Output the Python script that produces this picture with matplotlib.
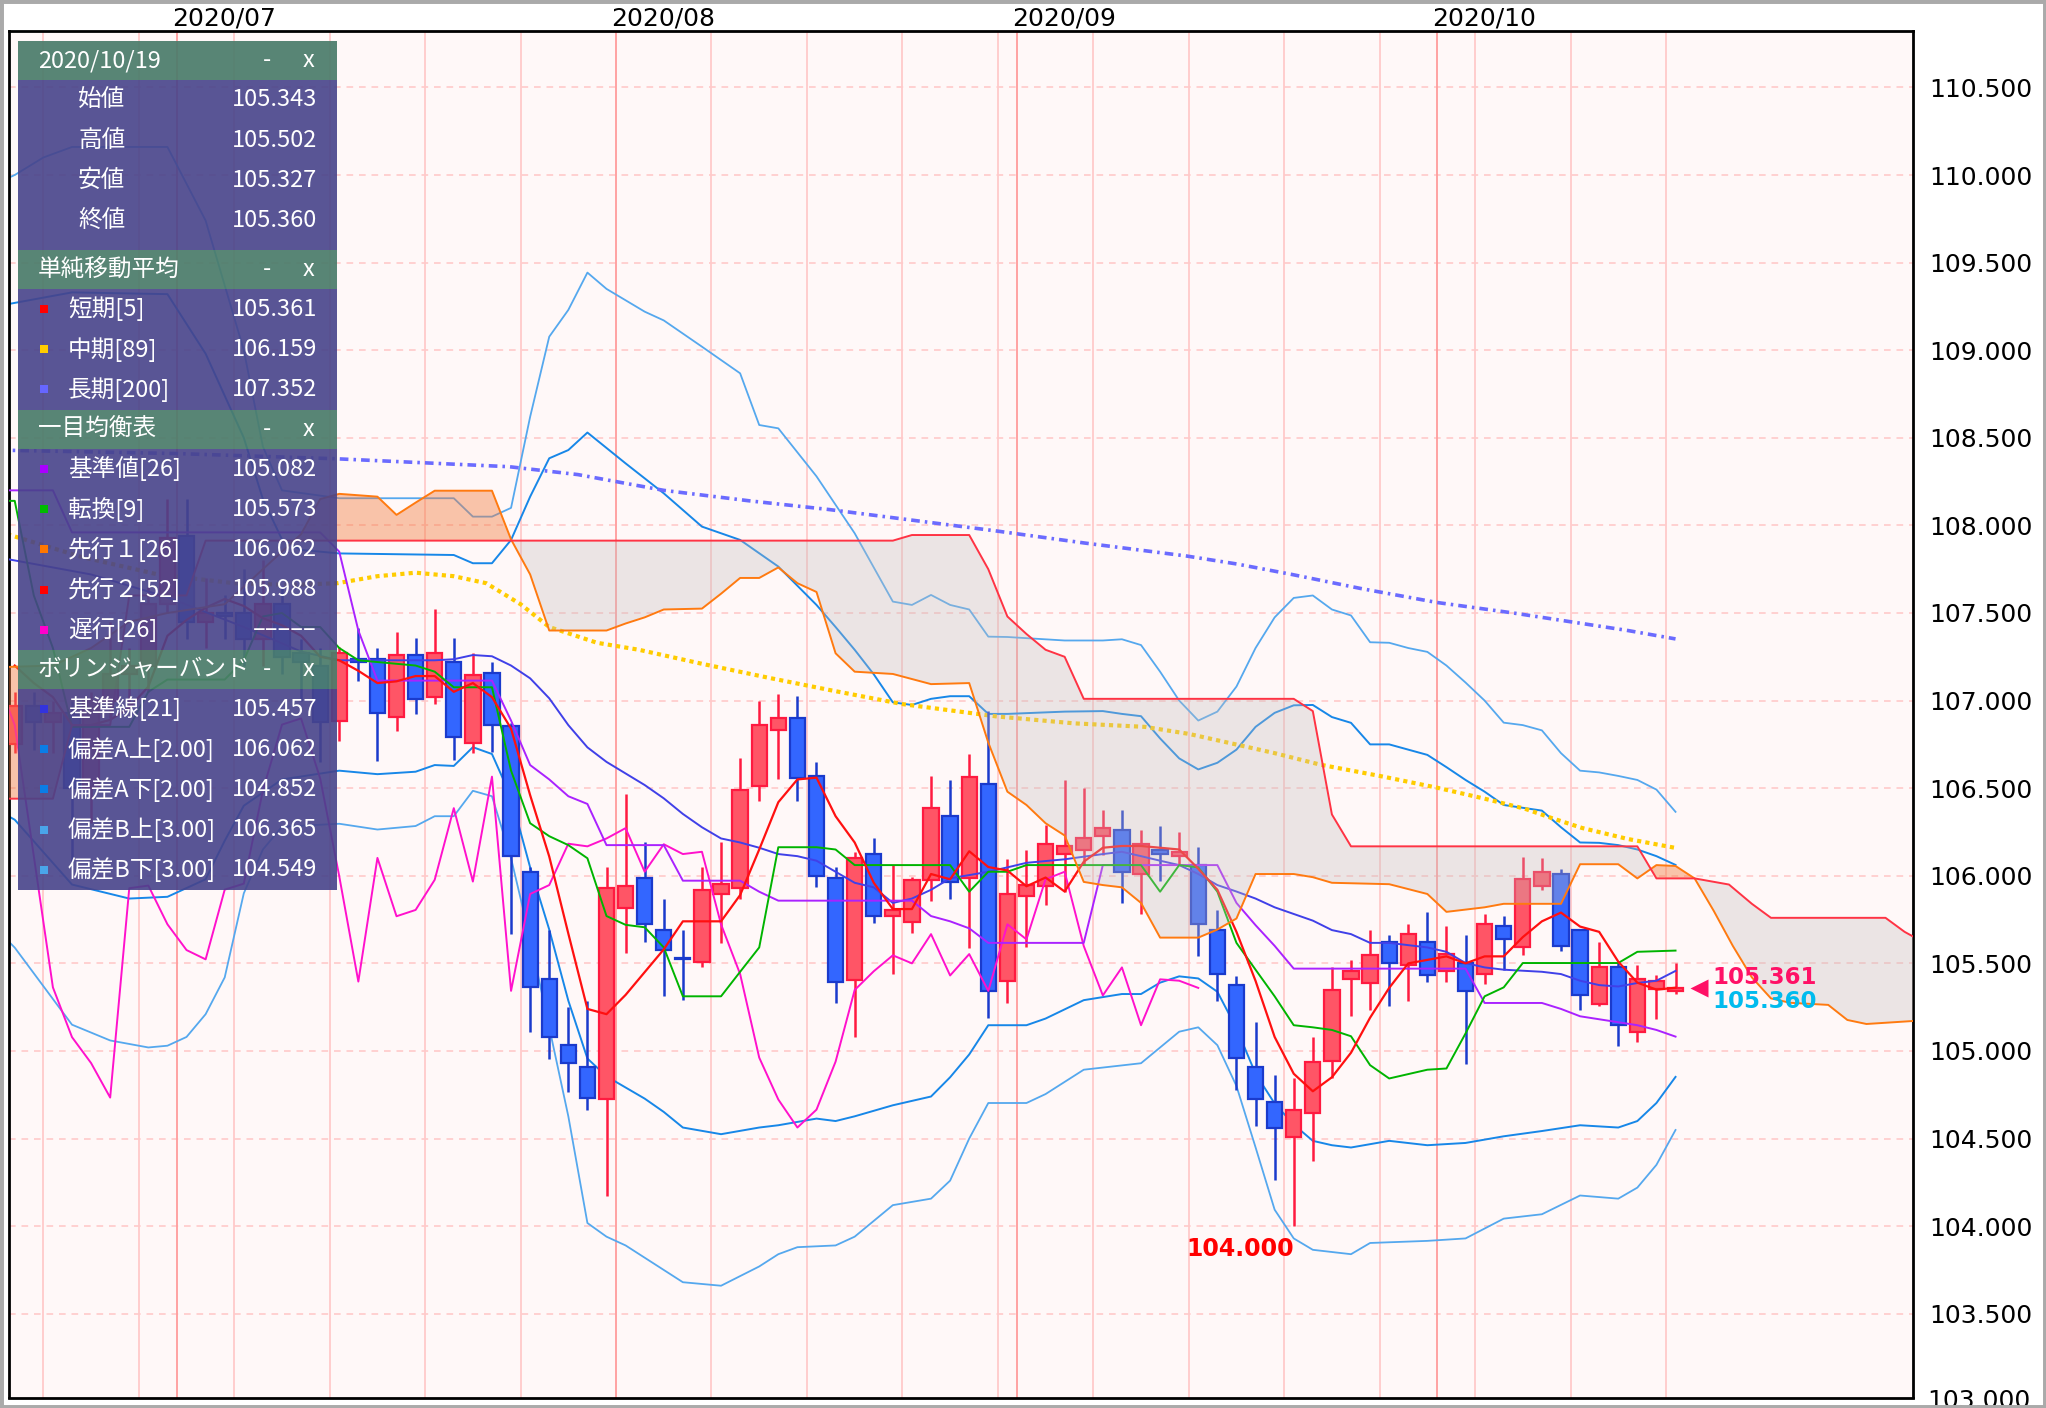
import numpy as np
import matplotlib.pyplot as plt
from matplotlib.patches import Rectangle
from matplotlib.transforms import blended_transform_factory

plt.rcParams['font.family'] = ['Noto Sans CJK JP', 'DejaVu Sans']

# ---------------- data (trading-day index, 0 = 2020/07/01) ----------------
first_k = -9
opens = [106.75, 106.97, 106.88, 106.93, 106.50, 107.00, 107.15, 107.20, 107.55,
         107.94, 107.45, 107.50, 107.50, 107.35, 107.55, 107.27, 107.20,
         106.886, 107.24, 107.236, 106.906, 107.261, 107.02, 107.221, 106.759, 107.16,
         106.855, 106.023, 105.409, 105.033, 104.911, 104.723, 105.815, 105.99, 105.693,
         105.533, 105.51, 105.896, 105.929, 106.51, 106.83, 106.898, 106.569, 105.99,
         105.404, 106.124, 105.769, 105.739, 105.977, 106.34, 105.985, 106.523, 105.398,
         105.883, 105.942, 106.124, 106.145, 106.226, 106.259, 106.01, 106.145, 106.112,
         106.061, 105.693, 105.376, 104.906, 104.711, 104.508, 104.647, 104.944, 105.41,
         105.389, 105.622, 105.49, 105.622, 105.459, 105.502, 105.441, 105.713, 105.591,
         105.942, 106.01, 105.693, 105.269, 105.477, 105.109, 105.355, 105.343]
highs = [107.05, 107.05, 107.00, 107.00, 107.05, 107.45, 107.30, 107.65, 108.15,
         108.15, 107.70, 107.60, 107.75, 107.80, 107.65, 107.35, 107.30,
         107.305, 107.414, 107.30, 107.393, 107.355, 107.525, 107.355, 107.274, 107.221,
         106.873, 106.048, 105.688, 105.249, 105.287, 106.048, 106.467, 106.195, 105.865,
         105.693, 106.048, 106.195, 106.67, 107.0, 107.038, 107.025, 106.65, 106.048,
         106.135, 106.218, 106.06, 105.992, 106.568, 106.548, 106.695, 106.942, 106.094,
         106.147, 106.289, 106.548, 106.5, 106.378, 106.378, 106.264, 106.284, 106.251,
         106.162, 105.807, 105.427, 105.165, 104.863, 104.843, 105.079, 105.477, 105.521,
         105.693, 105.66, 105.726, 105.795, 105.713, 105.66, 105.782, 105.772, 106.107,
         106.104, 106.036, 105.693, 105.624, 105.502, 105.49, 105.434, 105.502]
lows = [106.70, 106.72, 106.70, 106.08, 106.30, 106.90, 106.95, 107.05, 107.50,
        107.35, 107.30, 107.35, 107.20, 107.20, 107.15, 107.00, 106.65,
        106.772, 107.114, 106.657, 106.827, 106.924, 106.982, 106.662, 106.70, 106.708,
        105.668, 105.109, 104.957, 104.767, 104.665, 104.175, 105.561, 105.622, 105.312,
        105.292, 105.477, 105.617, 105.87, 106.429, 106.551, 106.429, 105.934, 105.274,
        105.081, 105.731, 105.439, 105.675, 105.858, 105.87, 105.586, 105.19, 105.274,
        105.591, 105.833, 105.909, 106.061, 106.119, 105.845, 105.782, 105.972, 106.061,
        105.54, 105.287, 104.779, 104.574, 104.266, 104.000, 104.373, 104.843, 105.198,
        105.236, 105.254, 105.284, 105.393, 105.393, 104.926, 105.383, 105.464, 105.546,
        105.916, 105.571, 105.236, 105.254, 105.028, 105.051, 105.185, 105.327]
closes = [106.97, 106.88, 106.93, 106.50, 107.00, 107.15, 107.20, 107.55, 107.93,
          107.45, 107.50, 107.48, 107.35, 107.55, 107.25, 107.22, 106.88,
          107.272, 107.22, 106.931, 107.261, 107.008, 107.272, 106.794, 107.147, 106.86,
          106.112, 105.363, 105.079, 104.931, 104.734, 105.929, 105.944, 105.723, 105.576,
          105.523, 105.921, 105.955, 106.487, 106.863, 106.898, 106.556, 105.997, 105.396,
          106.102, 105.769, 105.805, 105.977, 106.386, 105.967, 106.566, 105.343, 105.896,
          105.947, 106.183, 106.168, 106.213, 106.272, 106.023, 106.18, 106.124, 106.137,
          105.723, 105.439, 104.962, 104.723, 104.563, 104.665, 104.939, 105.348, 105.455,
          105.546, 105.5, 105.667, 105.431, 105.553, 105.343, 105.723, 105.637, 105.98,
          106.023, 105.599, 105.317, 105.477, 105.147, 105.409, 105.401, 105.360]

sma5 = [107.20, 107.10, 107.02, 106.86, 106.86, 106.89, 106.96, 107.08, 107.37, 107.46,
        107.53, 107.58, 107.54, 107.47, 107.43, 107.37, 107.25, 107.23, 107.17, 107.10,
        107.11, 107.14, 107.14, 107.05, 107.10, 107.02, 106.84, 106.46, 106.11, 105.67,
        105.24, 105.21, 105.32, 105.45, 105.58, 105.74, 105.74, 105.74, 105.89, 106.15,
        106.42, 106.55, 106.56, 106.34, 106.19, 105.96, 105.81, 105.81, 106.01, 105.98,
        106.14, 106.05, 106.03, 105.94, 105.99, 105.91, 106.08, 106.16, 106.17, 106.17,
        106.16, 106.15, 106.04, 105.92, 105.68, 105.40, 105.08, 104.87, 104.77, 104.85,
        104.99, 105.19, 105.36, 105.50, 105.52, 105.54, 105.50, 105.54, 105.54, 105.65,
        105.74, 105.79, 105.71, 105.68, 105.51, 105.39, 105.35, 105.361]

# line vertices: (day position, price)
sma89 = [(-9.5, 107.97), (-5, 107.82), (-1, 107.72), (3, 107.67), (6, 107.66), (8.4, 107.67),
         (10.5, 107.71), (12.5, 107.73), (14.5, 107.71), (16.2, 107.67), (18, 107.55),
         (19.5, 107.42), (22, 107.33), (24.2, 107.29), (27.5, 107.21), (31, 107.13),
         (34.2, 107.06), (38, 106.98), (42.9, 106.91), (47, 106.87), (50.7, 106.85),
         (53, 106.81), (55.3, 106.754), (57.5, 106.70), (59.9, 106.634), (63, 106.57),
         (66, 106.503), (68.5, 106.44), (70.6, 106.383), (72, 106.33), (73.6, 106.273),
         (76, 106.21), (78.5, 106.159)]
sma200 = [(-9.5, 108.43), (0, 108.41), (8.4, 108.38), (17.4, 108.335), (21, 108.29),
          (25.5, 108.2), (30, 108.14), (34.2, 108.09), (38.5, 108.03), (42.8, 107.97),
          (47.5, 107.9), (52.9, 107.825), (55.5, 107.78), (58.4, 107.72), (62, 107.64),
          (66, 107.56), (70, 107.5), (73.6, 107.44), (76, 107.40), (78.5, 107.352)]
kijun = [(-9.5, 108.2), (-6.5, 108.2), (-5.5, 107.96), (7.5, 107.96), (8.5, 107.85),
         (9.5, 107.4), (10.5, 107.114), (16.5, 107.114), (17.5, 106.886), (18.5, 106.632),
         (19.5, 106.55), (20.5, 106.454), (21.5, 106.41), (22.5, 106.175), (25.5, 106.175),
         (26.5, 105.972), (29.5, 105.972), (30.5, 105.909), (31.5, 105.858), (38.5, 105.858),
         (39.5, 105.77), (40.5, 105.74), (41.5, 105.7), (42.5, 105.617), (47.5, 105.617),
         (48.5, 106.061), (54.5, 106.061), (55.5, 105.845), (56.5, 105.718), (57.5, 105.6),
         (58.5, 105.47), (67.5, 105.47), (68.5, 105.274), (71.5, 105.274), (72.5, 105.24),
         (73.5, 105.198), (76.5, 105.147), (77.5, 105.12), (78.5, 105.082)]
tenkan = [(-9.5, 108.14), (-8.5, 108.14), (-7.5, 107.6), (-6.5, 107.3), (-5.5, 106.85),
          (-2.5, 106.85), (-1.5, 107.05), (-0.5, 107.12), (2.5, 107.12), (3.5, 107.23),
          (4.5, 107.48), (5.5, 107.5), (6.5, 107.42), (7.5, 107.42), (8.5, 107.3),
          (9.5, 107.23), (12.5, 107.2), (13.5, 107.165), (14.5, 107.076), (16.5, 107.076),
          (17.5, 106.6), (18.5, 106.3), (19.5, 106.226), (20.5, 106.175), (21.5, 106.1),
          (22.5, 105.77), (23.5, 105.72), (24.5, 105.706), (25.5, 105.591), (26.5, 105.312),
          (28.5, 105.312), (29.5, 105.452), (30.5, 105.591), (31.5, 106.163), (33.5, 106.163),
          (34.5, 106.15), (35.5, 106.061), (40.5, 106.061), (41.5, 105.909), (42.5, 106.023),
          (43.5, 106.023), (44.5, 106.061), (50.5, 106.061), (51.5, 105.909), (52.5, 106.061),
          (53.5, 106.048), (54.5, 105.909), (55.5, 105.617), (56.5, 105.464), (57.5, 105.312),
          (58.5, 105.147), (59.5, 105.135), (60.5, 105.12), (61.5, 105.084), (62.5, 104.919),
          (63.5, 104.843), (65.5, 104.893), (66.5, 104.9), (67.5, 105.1), (68.5, 105.312),
          (69.5, 105.363), (70.5, 105.502), (75.5, 105.502), (76.5, 105.566), (78.5, 105.573)]
senkou_a = [(-9.5, 107.19), (-6.5, 107.2), (-4.5, 107.3), (-2.5, 107.45), (-0.5, 107.5),
            (2.5, 107.55), (4.5, 107.75), (6.5, 107.95), (7.5, 108.15), (8.5, 108.18),
            (10.5, 108.164), (11.5, 108.06), (12.5, 108.13), (13.5, 108.198), (16.5, 108.198),
            (17.5, 107.92), (18.5, 107.72), (19.5, 107.40), (22.5, 107.40), (23.5, 107.44),
            (24.5, 107.475), (25.5, 107.52), (27.5, 107.525), (28.5, 107.61), (29.5, 107.70),
            (30.5, 107.70), (31.5, 107.76), (32.5, 107.67), (33.5, 107.62), (34.5, 107.27),
            (35.5, 107.165), (37.5, 107.152), (39.5, 107.094), (41.5, 107.1), (42.5, 106.76),
            (43.5, 106.48), (44.5, 106.404), (45.5, 106.30), (46.5, 106.23), (47.5, 105.965),
            (48.5, 105.947), (49.5, 105.934), (50.5, 105.845), (51.5, 105.647), (53.5, 105.647),
            (54.5, 105.693), (55.5, 105.756), (56.5, 106.01), (58.5, 106.01), (59.5, 105.992),
            (60.5, 105.96), (63.5, 105.952), (65.5, 105.896), (66.5, 105.794), (68.5, 105.82),
            (69.5, 105.84), (72.5, 105.84), (73.5, 106.066), (75.5, 106.066), (76.5, 105.985),
            (77.5, 106.061), (78.5, 106.056), (79.5, 105.985), (80.5, 105.80), (81.5, 105.60),
            (82.5, 105.42), (83.5, 105.30), (84.5, 105.275), (86.5, 105.263), (87.5, 105.177),
            (88.5, 105.154), (91.5, 105.175)]
senkou_b = [(-9.5, 106.44), (-6.5, 106.44), (-5.5, 106.86), (-3.5, 106.86), (-2.5, 107.6),
            (0.5, 107.6), (1.5, 107.913), (37.5, 107.913), (38.5, 107.945), (41.5, 107.945),
            (42.5, 107.75), (43.5, 107.48), (44.5, 107.38), (45.5, 107.29), (46.5, 107.25),
            (47.5, 107.01), (58.5, 107.01), (59.5, 106.94), (60.5, 106.35), (61.5, 106.168),
            (76.5, 106.168), (77.5, 105.985), (79.5, 105.985), (81.3, 105.95), (82.5, 105.84),
            (83.5, 105.76), (89.5, 105.76), (90.5, 105.68), (91.5, 105.62)]
bb_mid = [(-9.5, 107.82), (-8.5, 107.8), (-4.5, 107.72), (-0.5, 107.59), (3.5, 107.42),
          (6.5, 107.28), (8.5, 107.23), (13.5, 107.23), (14.5, 107.236), (15.5, 107.26),
          (16.5, 107.253), (17.5, 107.2), (18.5, 107.127), (19.5, 107.013), (20.5, 106.86),
          (21.5, 106.733), (22.5, 106.65), (24.5, 106.518), (25.5, 106.442), (26.5, 106.353),
          (27.5, 106.277), (28.5, 106.213), (29.5, 106.19), (30.5, 106.16), (31.5, 106.124),
          (32.5, 106.112), (33.5, 106.086), (34.5, 106.023), (35.5, 105.96), (36.5, 105.934),
          (37.5, 105.845), (38.5, 105.87), (39.5, 105.92), (40.5, 105.985), (42.5, 106.023),
          (43.5, 106.048), (44.5, 106.074), (46.5, 106.094), (48.5, 106.124), (49.5, 106.137),
          (50.5, 106.112), (51.5, 106.086), (52.5, 106.061), (53.5, 106.01), (54.5, 105.947),
          (55.5, 105.91), (56.5, 105.87), (57.5, 105.82), (58.5, 105.782), (59.5, 105.744),
          (60.5, 105.69), (61.5, 105.667), (62.5, 105.617), (63.5, 105.617), (64.5, 105.604),
          (65.5, 105.591), (66.5, 105.566), (67.5, 105.502), (68.5, 105.477), (69.5, 105.464),
          (71.5, 105.452), (72.5, 105.439), (73.5, 105.401), (74.5, 105.376), (75.5, 105.368),
          (76.5, 105.388), (77.5, 105.401), (78.5, 105.457)]
bb_up2 = [(-9.5, 109.25), (-8.5, 109.27), (-5.5, 109.33), (-0.5, 109.32), (1.5, 108.98),
          (3.5, 108.5), (4.5, 108.15), (5.5, 107.92), (6.5, 107.86), (8.5, 107.84),
          (14.5, 107.831), (15.5, 107.784), (16.5, 107.784), (17.5, 107.917), (18.5, 108.164),
          (19.5, 108.383), (20.5, 108.43), (21.5, 108.53), (23.5, 108.354), (25.5, 108.183),
          (27.5, 107.993), (29.5, 107.917), (31.5, 107.765), (33.5, 107.546), (34.5, 107.42),
          (35.5, 107.29), (36.5, 107.15), (37.5, 106.99), (38.5, 106.975), (39.5, 107.01),
          (40.5, 107.025), (41.5, 107.025), (42.5, 106.924), (43.5, 106.924), (46.5, 106.937),
          (48.5, 106.94), (49.5, 106.924), (50.5, 106.911), (51.5, 106.784), (52.5, 106.67),
          (53.5, 106.607), (54.5, 106.645), (55.5, 106.72), (56.5, 106.85), (57.5, 106.93),
          (58.5, 106.973), (59.5, 106.975), (60.5, 106.906), (61.5, 106.873), (62.5, 106.75),
          (63.5, 106.75), (65.5, 106.69), (66.5, 106.62), (67.5, 106.547), (68.5, 106.48),
          (69.5, 106.404), (71.5, 106.372), (72.5, 106.277), (73.5, 106.19), (74.5, 106.188),
          (75.5, 106.175), (76.5, 106.15), (77.5, 106.112), (78.5, 106.062)]
bb_up3 = [(-9.5, 109.95), (-8.5, 110.0), (-7, 110.1), (-5.5, 110.16), (-0.5, 110.16),
          (1.5, 109.74), (3.5, 109.0), (4.5, 108.45), (5.5, 108.2), (8.5, 108.155),
          (14.5, 108.155), (15.5, 108.05), (16.5, 108.05), (17.5, 108.1), (18.5, 108.62),
          (19.5, 109.077), (20.5, 109.23), (21.5, 109.443), (22.5, 109.35), (24.5, 109.22),
          (25.5, 109.17), (27.5, 109.02), (29.5, 108.868), (30.5, 108.573), (31.5, 108.554),
          (33.5, 108.28), (35.5, 107.955), (37.5, 107.565), (38.5, 107.546), (39.5, 107.603),
          (40.5, 107.546), (41.5, 107.52), (42.5, 107.365), (43.5, 107.363), (46.5, 107.343),
          (48.5, 107.343), (49.5, 107.35), (50.5, 107.317), (51.5, 107.165), (52.5, 107.0),
          (53.5, 106.886), (54.5, 106.937), (55.5, 107.08), (56.5, 107.3), (57.5, 107.475),
          (58.5, 107.586), (59.5, 107.6), (60.5, 107.52), (61.5, 107.486), (62.5, 107.333),
          (63.5, 107.33), (64.5, 107.3), (65.5, 107.278), (66.5, 107.2), (67.5, 107.103),
          (68.5, 107.0), (69.5, 106.874), (70.5, 106.86), (71.5, 106.83), (72.5, 106.7),
          (73.5, 106.6), (74.5, 106.59), (75.5, 106.57), (76.5, 106.547), (77.5, 106.492),
          (78.5, 106.365)]
bb_lo2 = [(-9.5, 106.38), (-8.5, 106.32), (-5.5, 105.95), (-2.5, 105.87), (-0.5, 105.88),
          (1.5, 105.98), (2.5, 106.2), (3.5, 106.4), (5.5, 106.55), (8.5, 106.6),
          (10.5, 106.58), (12.5, 106.594), (13.5, 106.632), (14.5, 106.627), (15.5, 106.734),
          (16.5, 106.695), (17.5, 106.45), (18.5, 106.048), (19.5, 105.693), (20.5, 105.287),
          (21.5, 104.957), (22.5, 104.855), (24.5, 104.728), (25.5, 104.652), (26.5, 104.563),
          (28.5, 104.525), (30.5, 104.563), (31.5, 104.576), (33.5, 104.614), (34.5, 104.6),
          (35.5, 104.627), (37.5, 104.69), (39.5, 104.74), (40.5, 104.85), (41.5, 104.98),
          (42.5, 105.147), (44.5, 105.147), (45.5, 105.185), (47.5, 105.29), (49.5, 105.325),
          (50.5, 105.325), (51.5, 105.39), (52.5, 105.426), (53.5, 105.414), (54.5, 105.338),
          (55.5, 105.13), (56.5, 104.87), (57.5, 104.7), (58.5, 104.58), (59.5, 104.487),
          (60.5, 104.462), (61.5, 104.449), (63.5, 104.487), (65.5, 104.462), (67.5, 104.475),
          (69.5, 104.513), (71.5, 104.543), (73.5, 104.576), (75.5, 104.563), (76.5, 104.6),
          (77.5, 104.703), (78.5, 104.852)]
bb_lo3 = [(-9.5, 105.7), (-8.5, 105.59), (-5.5, 105.15), (-3.5, 105.06), (-1.5, 105.02),
          (-0.5, 105.03), (0.5, 105.08), (1.5, 105.21), (2.5, 105.42), (3.5, 105.9),
          (4.5, 106.15), (5.5, 106.28), (8.5, 106.297), (10.5, 106.264), (12.5, 106.284),
          (13.5, 106.34), (14.5, 106.34), (15.5, 106.485), (16.5, 106.454), (17.5, 106.1),
          (18.5, 105.64), (19.5, 105.135), (20.5, 104.627), (21.5, 104.018), (22.5, 103.94),
          (23.5, 103.89), (25.5, 103.75), (26.5, 103.68), (28.5, 103.66), (30.5, 103.77),
          (31.5, 103.84), (32.5, 103.88), (34.5, 103.89), (35.5, 103.94), (37.5, 104.12),
          (39.5, 104.157), (40.5, 104.26), (41.5, 104.5), (42.5, 104.703), (44.5, 104.703),
          (45.5, 104.754), (47.5, 104.893), (50.5, 104.93), (51.5, 105.02), (52.5, 105.11),
          (53.5, 105.135), (54.5, 105.033), (55.5, 104.8), (56.5, 104.45), (57.5, 104.094),
          (58.5, 103.93), (59.5, 103.865), (61.5, 103.84), (62.5, 103.904), (65.5, 103.916),
          (67.5, 103.93), (69.5, 104.043), (71.5, 104.068), (73.5, 104.175), (75.5, 104.157),
          (76.5, 104.22), (77.5, 104.35), (78.5, 104.549)]

mondays = [-7, -2, 3, 8, 13, 18, 28, 33, 38, 43, 48, 53, 58, 63, 68, 73, 78]
month_starts = [0, 23, 44, 66]
month_labels = ['2020/07', '2020/08', '2020/09', '2020/10']
y_ticks = [103.5, 104.0, 104.5, 105.0, 105.5, 106.0, 106.5, 107.0, 107.5,
           108.0, 108.5, 109.0, 109.5, 110.0, 110.5]

# ---------------- figure ----------------
W, H = 2046, 1408
fig = plt.figure(figsize=(W / 100, H / 100), dpi=100)
L, R, T, B = 9, 1913, 31, 1397.5
ax = fig.add_axes([L / W, 1 - B / H, (R - L) / W, (B - T) / H])
ax.set_facecolor('#fff8f8')
ax.set_xlim(-8.8, 90.94)
ax.set_ylim(103.022, 110.822)

for y in y_ticks:
    ax.axhline(y, color='#ffcaca', lw=1.2, ls=(0, (4, 3.5)), zorder=0.5)
for m in mondays:
    ax.axvline(m, color='#ffcaca', lw=1.3, zorder=0.5)
for m in month_starts:
    ax.axvline(m, color='#ff9c9c', lw=1.3, zorder=0.6)


def line(pts, **kw):
    xs, ys = zip(*pts)
    ax.plot(xs, ys, **kw)


# bollinger
line(bb_up3, color='#55a8ee', lw=1.3, zorder=2)
line(bb_lo3, color='#55a8ee', lw=1.3, zorder=2)
line(bb_up2, color='#1787e8', lw=1.4, zorder=2)
line(bb_lo2, color='#1787e8', lw=1.4, zorder=2)

# moving averages
line(sma200, color='#6b6bff', lw=2.6, ls=(0, (2.4, 1.4, 0.7, 1.4)), zorder=2)
line(sma89, color='#ffcc00', lw=3.0, ls=(0, (1, 1)), zorder=2)

# candles
kx = np.arange(first_k, first_k + len(opens)) + 0.5
o, h, l, c = map(np.array, (opens, highs, lows, closes))
up = c >= o
for mask, face, edge in ((up, '#ff5566', '#ff1a40'), (~up, '#3366ff', '#1a3acc')):
    ax.vlines(kx[mask], l[mask], h[mask], color=edge, lw=1.8, zorder=2.5)
    ax.bar(kx[mask], np.maximum(np.abs(c - o)[mask], 0.008), bottom=np.minimum(o, c)[mask],
           width=0.8, color=face, edgecolor=edge, linewidth=1.6, zorder=2.6)

# ichimoku lines + bb mid + sma5
ax.plot(kx - 25, closes, color='#ff11cc', lw=1.4, zorder=3)
line(bb_mid, color='#4040e8', lw=1.4, zorder=3)
line(kijun, color='#aa22ff', lw=1.4, zorder=3)
line(tenkan, color='#00b400', lw=1.4, zorder=3)
ax.plot(kx, sma5, color='#ff1010', lw=1.6, zorder=3.2)

# cloud
xs = np.linspace(-9.5, 91.5, 3000)
sa = np.interp(xs, *zip(*senkou_a))
sb = np.interp(xs, *zip(*senkou_b))
ax.fill_between(xs, sa, sb, where=sa >= sb, interpolate=True, color='#f27a3c', alpha=0.42,
                lw=0, zorder=4)
ax.fill_between(xs, sa, sb, where=sa < sb, interpolate=True, color='#c4bebe', alpha=0.33,
                lw=0, zorder=4)
line(senkou_a, color='#ff7a10', lw=1.4, zorder=4.5)
line(senkou_b, color='#ff3344', lw=1.4, zorder=4.5)

# annotations
low_i = int(np.argmin(lows))
ax.text(kx[low_i], lows[low_i] - 0.06, f'{lows[low_i]:.3f}', color='#ff0000', fontsize=17,
        fontweight='bold', family='DejaVu Sans', ha='right', va='top', zorder=6)
ax.plot(79.75, closes[-1], marker='<', ms=13, color='#ff1166', mec='none', zorder=6,
        clip_on=False)
ax.text(80.45, 105.42, f'{sma5[-1]:.3f}', color='#ff1166', fontsize=16.5, fontweight='bold',
        family='DejaVu Sans', ha='left', va='center', zorder=6)
ax.text(80.45, 105.285, f'{closes[-1]:.3f}', color='#00bbee', fontsize=16.5, fontweight='bold',
        family='DejaVu Sans', ha='left', va='center', zorder=6)

# axes cosmetics
ax.yaxis.tick_right()
ax.set_yticks(y_ticks)
ax.set_yticklabels([f'{v:.3f}' for v in y_ticks], family='DejaVu Sans', fontsize=18)
ax.tick_params(axis='y', length=0, pad=12)
ax.set_xticks([])
for s in ax.spines.values():
    s.set_linewidth(2)
    s.set_color('black')
trans = blended_transform_factory(ax.transData, ax.transAxes)
for m, lab in zip(month_starts, month_labels):
    ax.text(m - 0.25, 1 + 13 / (B - T), lab, transform=trans, ha='left', va='center',
            fontsize=18, family='DejaVu Sans')
ax.text(1.0 + 14 / (R - L), 103.0, '103.000', transform=blended_transform_factory(ax.transAxes, ax.transData),
        ha='left', va='center', fontsize=18, family='DejaVu Sans', clip_on=False)

# ---------------- info panel ----------------
pan = fig.add_axes([0, 0, 1, 1], zorder=10)
pan.set_xlim(0, W)
pan.set_ylim(H, 0)
pan.axis('off')
pan.patch.set_alpha(0)

head_c, body_c = '#4b7c6b', '#47438a'
px0, px1 = 18, 337
sections = [
    ('2020/10/19', 41, 80, 250, [(None, '始値', '105.343'), (None, '高値', '105.502'),
                                  (None, '安値', '105.327'), (None, '終値', '105.360')]),
    ('単純移動平均', 250, 289, 410, [('#ff0000', '短期[5]', '105.361'), ('#ffcc00', '中期[89]', '106.159'),
                                   ('#6666ff', '長期[200]', '107.352')]),
    ('一目均衡表', 410, 449, 650, [('#aa00ff', '基準値[26]', '105.082'), ('#00bb00', '転換[9]', '105.573'),
                                 ('#ff7700', '先行１[26]', '106.062'), ('#ff0000', '先行２[52]', '105.988'),
                                 ('#ff00cc', '遅行[26]', '–––––')]),
    ('ボリンジャーバンド', 650, 689, 890, [('#3333dd', '基準線[21]', '105.457'),
                                        ('#0a7de6', '偏差A上[2.00]', '106.062'),
                                        ('#0a7de6', '偏差A下[2.00]', '104.852'),
                                        ('#4aa5ea', '偏差B上[3.00]', '106.365'),
                                        ('#4aa5ea', '偏差B下[3.00]', '104.549')]),
]
fs = 17
for title, y0, y1, y2, rows in sections:
    pan.add_patch(Rectangle((px0, y0), px1 - px0, y1 - y0, color=head_c, alpha=0.93, lw=0))
    pan.add_patch(Rectangle((px0, y1), px1 - px0, y2 - y1, color=body_c, alpha=0.9, lw=0))
    yc = (y0 + y1) / 2
    pan.text(38, yc, title, color='white', fontsize=fs, ha='left', va='center')
    pan.text(267, yc, '-', color='white', fontsize=fs, ha='center', va='center')
    pan.text(309, yc, 'x', color='white', fontsize=fs, ha='center', va='center')
    step = 40.2
    for i, (col, lab, val) in enumerate(rows):
        yr = y1 + 20 + i * step
        if col is None:
            pan.text(78, yr, lab, color='white', fontsize=fs, ha='left', va='center')
        else:
            pan.add_patch(Rectangle((40, yr - 4), 8, 8, color=col, lw=0))
            pan.text(68, yr, lab, color='white', fontsize=fs, ha='left', va='center')
        pan.text(317, yr, val, color='white', fontsize=fs, ha='right', va='center')

fig.patches.append(Rectangle((0, 0), 1, 1, transform=fig.transFigure, fill=False,
                             ec='#aaaaaa', lw=5))
fig.savefig('out.png', dpi=100, facecolor='white')
